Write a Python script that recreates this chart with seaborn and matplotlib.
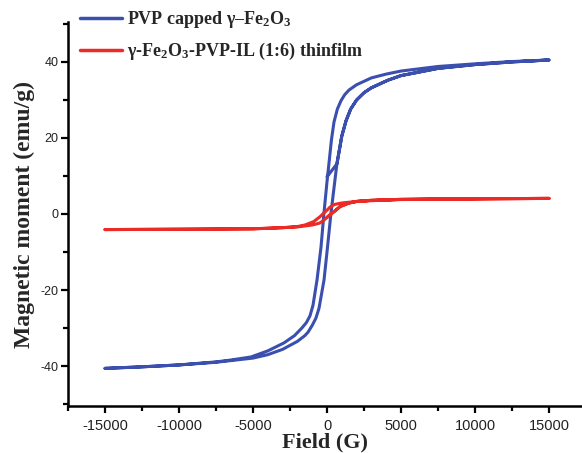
import matplotlib
matplotlib.use("Agg")
import matplotlib.pyplot as plt
import seaborn as sns
import pandas as pd
from matplotlib.ticker import FixedLocator

# ---- data ----
# PVP capped gamma-Fe2O3: initial segment, ascending branch, descending branch, ascending branch
pvp_init_H = [0, 675]
pvp_init_M = [9.8, 13.2]
pvp_asc_H = [-15000, -12500, -10000, -7500, -5000, -4000, -3000, -2000, -1500, -1284, -1000,
             -750, -540, -203, 0, 270, 675, 1000, 1284, 1600, 2000, 2500, 3000, 4120, 5000,
             7500, 10000, 12500, 15000]
pvp_asc_M = [-40.6, -40.2, -39.7, -39.0, -37.9, -37.0, -35.6, -33.5, -32.0, -31.1, -29.3,
             -27.4, -24.8, -17.4, -10.0, 0.3, 13.4, 20.5, 24.5, 27.6, 30.0, 31.9, 33.2, 35.2,
             36.4, 38.3, 39.3, 40.0, 40.5]
pvp_desc_H = [15000, 12500, 10000, 7500, 5000, 4000, 3000, 2000, 1486, 1200, 946, 700, 473,
              300, 135, 0, -203, -405, -676, -946, -1150, -1400, -1700, -2200, -2905, -4000,
              -5135, -6486, -7500, -10000, -12500, -15000]
pvp_desc_M = [40.5, 40.1, 39.5, 38.8, 37.6, 36.8, 35.8, 34.0, 32.6, 31.4, 29.8, 27.6, 24.2,
              19.5, 13.4, 8.5, 0.3, -8.7, -17.4, -24.0, -26.8, -28.6, -30.0, -32.0, -33.9,
              -36.0, -37.6, -38.4, -38.9, -39.7, -40.2, -40.6]

# gamma-Fe2O3-PVP-IL (1:6) thin film
il_desc_H = [15000, 10000, 5000, 3000, 2000, 1000, 500, 200, 0, -200, -500, -900, -1500,
             -2000, -3000, -5000, -10000, -15000]
il_desc_M = [4.1, 4.0, 3.8, 3.5, 3.3, 2.9, 2.5, 1.8, 1.0, 0.3, -0.8, -2.0, -2.9,
             -3.3, -3.6, -3.9, -4.0, -4.1]
il_asc_H = [-15000, -10000, -5000, -3000, -2000, -1000, -500, -200, 0, 200, 500, 900, 1500,
            2000, 3000, 5000, 10000, 15000]
il_asc_M = [-4.1, -4.0, -3.9, -3.6, -3.4, -2.9, -2.4, -1.6, -0.9, -0.2, 0.7, 2.0, 2.9,
            3.3, 3.6, 3.85, 4.0, 4.1]

label_pvp = "PVP capped γ–Fe$_2$O$_3$"
label_il = "γ-Fe$_2$O$_3$-PVP-IL (1:6) thinfilm"

x_ticks = [-15000, -10000, -5000, 0, 5000, 10000, 15000]
y_ticks = [-40, -20, 0, 20, 40]

# ---- build frames ----
i0 = pvp_asc_H.index(1000)
pvp_H = pvp_init_H + pvp_asc_H[i0:] + pvp_desc_H + pvp_asc_H
pvp_M = pvp_init_M + pvp_asc_M[i0:] + pvp_desc_M + pvp_asc_M
j0 = il_asc_H.index(0)
il_H = il_asc_H[j0:] + il_desc_H + il_asc_H
il_M = il_asc_M[j0:] + il_desc_M + il_asc_M
df_pvp = pd.DataFrame({"H": pvp_H, "M": pvp_M})
df_il = pd.DataFrame({"H": il_H, "M": il_M})

sns.set_style("ticks")
plt.rcParams["font.family"] = ["Liberation Sans", "DejaVu Sans"]
plt.rcParams["mathtext.fontset"] = "custom"
plt.rcParams["mathtext.rm"] = "Liberation Serif:bold"
plt.rcParams["mathtext.it"] = "Liberation Serif:italic:bold"
plt.rcParams["mathtext.bf"] = "Liberation Serif:bold"
plt.rcParams["mathtext.default"] = "rm"

W, H = 582, 453
fig = plt.figure(figsize=(W / 100, H / 100), dpi=100)
ax = fig.add_axes([68 / W, 1 - 406 / H, 514 / W, 384 / H])

blue = "#3a4fae"
red = "#ec2b27"
sns.lineplot(data=df_pvp, x="H", y="M", sort=False, estimator=None, color=blue,
             linewidth=2.2, ax=ax, label=label_pvp)
sns.lineplot(data=df_il, x="H", y="M", sort=False, estimator=None, color=red,
             linewidth=2.2, ax=ax, label=label_il)

ax.set_xlim(-17500, -17500 + 514 / 14.8 * 1000)
ax.set_ylim(-50.5, 50.5)
ax.xaxis.set_major_locator(FixedLocator(x_ticks))
ax.xaxis.set_minor_locator(FixedLocator([-17500, -12500, -7500, -2500, 2500, 7500, 12500, 17500]))
ax.yaxis.set_major_locator(FixedLocator(y_ticks))
ax.yaxis.set_minor_locator(FixedLocator([-50, -30, -10, 10, 30, 50]))
ax.set_xticklabels([str(v) for v in x_ticks])
ax.set_yticklabels([str(v) for v in y_ticks])

for s in ["top", "right"]:
    ax.spines[s].set_visible(False)
for s in ["left", "bottom"]:
    ax.spines[s].set_linewidth(1.8)
    ax.spines[s].set_color("black")
ax.tick_params(axis="both", which="major", direction="out", length=5, width=1.6, color="black")
ax.tick_params(axis="both", which="minor", direction="out", length=3.5, width=1.6, color="black")
ax.tick_params(axis="x", which="major", labelsize=10.5, pad=4, labelcolor="#222222")
ax.tick_params(axis="y", which="major", labelsize=9, pad=2, labelcolor="#222222")

ax.set_xlabel("Field (G)", family=["Liberation Serif", "DejaVu Serif"], fontweight="bold",
              fontsize=16, labelpad=0)
ax.set_ylabel("Magnetic moment (emu/g)", family=["Liberation Serif", "DejaVu Serif"],
              fontweight="bold", fontsize=17, labelpad=4)

leg = ax.legend(loc="upper left", bbox_to_anchor=(80 / W, 1 - 9 / H),
                bbox_transform=fig.transFigure, frameon=False, borderpad=0,
                borderaxespad=0, handlelength=2.3, handletextpad=0.3, labelspacing=0.6,
                prop={"family": ["Liberation Serif", "DejaVu Serif"], "weight": "bold",
                      "size": 13})
for line in leg.get_lines():
    line.set_linewidth(2.5)

fig.savefig("out.png", dpi=100)
